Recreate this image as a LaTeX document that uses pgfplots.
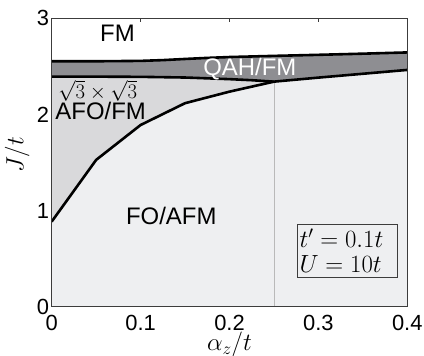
\documentclass[border=0pt]{standalone}
\usepackage{fontspec}
\setmainfont{Liberation Sans}
\usepackage{pgfplots}
\pgfplotsset{compat=1.18}

\definecolor{qahgray}{RGB}{142,142,146}
\definecolor{afogray}{RGB}{217,217,219}
\definecolor{fogray}{RGB}{238,239,241}
\definecolor{framegray}{RGB}{60,60,60}

\begin{document}
\begin{tikzpicture}
\begin{axis}[
  at={(0,0)}, anchor=south west,
  scale only axis, width=355.6bp, height=288.4bp,
  xmin=0, xmax=0.4, ymin=0, ymax=3,
  xtick={0,0.1,0.2,0.3,0.4}, ytick={0,1,2,3},
  xticklabels={0,0.1,0.2,0.3,0.4}, yticklabels={0,1,2,3},
  xtick pos=upper, xticklabel pos=lower,
  ytick pos=left, yticklabel pos=left,
  tick align=inside, major tick length=4bp,
  ytick style={draw=none},
  xtick style={framegray, line width=0.6bp},
  axis line style={framegray, line width=0.8bp},
  axis on top,
  ticklabel style={font=\fontsize{22}{22}\selectfont},
  xticklabel style={anchor=north, inner sep=0pt, yshift=-8bp},
  yticklabel style={anchor=east, inner sep=0pt, xshift=-2.5bp},
  xlabel={$\alpha_z/t$}, ylabel={$J/t$},
  xlabel style={at={(axis description cs:0.5,0)}, anchor=center, yshift=-37.5bp,
                font=\fontsize{25}{25}\selectfont},
  ylabel style={at={(axis description cs:-0.097,0.526)}, anchor=center,
                font=\fontsize{25}{25}\selectfont},
]

% FO/AFM region: below the lower phase boundary
\addplot[draw=none, fill=fogray] coordinates {
  (0,0) (0,0.885) (0.05,1.527) (0.1,1.89) (0.15,2.117) (0.2,2.237) (0.25,2.341)
  (0.3,2.383) (0.35,2.423) (0.4,2.463) (0.4,0)} -- cycle;

% sqrt3 x sqrt3 AFO/FM region
\addplot[draw=none, fill=afogray] coordinates {
  (0,0.885) (0.05,1.527) (0.1,1.89) (0.15,2.117) (0.2,2.237) (0.25,2.341)
  (0.225,2.356) (0.2,2.367) (0.15,2.384) (0.1,2.391) (0.05,2.393) (0,2.393)} -- cycle;

% QAH/FM band
\addplot[draw=none, fill=qahgray] coordinates {
  (0,2.553) (0.05,2.553) (0.1,2.557) (0.125,2.565) (0.15,2.577) (0.175,2.588)
  (0.2,2.597) (0.25,2.609) (0.3,2.62) (0.35,2.632) (0.4,2.645)
  (0.4,2.463) (0.35,2.423) (0.3,2.383) (0.25,2.341) (0.225,2.356) (0.2,2.367)
  (0.15,2.384) (0.1,2.391) (0.05,2.393) (0,2.393)} -- cycle;

% thin marker of the triple point
\addplot[gray!55, line width=0.6bp] coordinates {(0.25,0) (0.25,2.341)};

% phase boundaries
\addplot[black, line width=2.6bp, line join=round] coordinates {
  (0,2.553) (0.05,2.553) (0.1,2.557) (0.125,2.565) (0.15,2.577) (0.175,2.588)
  (0.2,2.597) (0.25,2.609) (0.3,2.62) (0.35,2.632) (0.4,2.645)};
\addplot[black, line width=2.6bp, line join=round] coordinates {
  (0,2.393) (0.05,2.393) (0.1,2.391) (0.15,2.384) (0.2,2.367) (0.225,2.356)
  (0.25,2.341) (0.3,2.383) (0.35,2.423) (0.4,2.463)};
\addplot[black, line width=2.6bp, line join=round] coordinates {
  (0,0.885) (0.05,1.527) (0.1,1.89) (0.15,2.117) (0.2,2.237) (0.25,2.341)};

% phase labels
\node[anchor=base west, inner sep=0pt, font=\fontsize{24}{24}\selectfont]
  at (axis cs:0.0543,2.758) {FM};
\node[anchor=base west, inner sep=0pt, text=white, font=\fontsize{24}{24}\selectfont]
  at (axis cs:0.1703,2.40) {QAH/FM};
\node[anchor=base west, inner sep=0pt, font=\fontsize{20.5}{20.5}\selectfont]
  at (axis cs:0.0074,2.165) {$\sqrt{3}\times\sqrt{3}$};
\node[anchor=base west, inner sep=0pt, font=\fontsize{24}{24}\selectfont]
  at (axis cs:0.004,1.943) {AFO/FM};
\node[anchor=base west, inner sep=0pt, font=\fontsize{24}{24}\selectfont]
  at (axis cs:0.0835,0.85) {FO/AFM};

% parameter box
\node[anchor=north west, draw=framegray, line width=0.6bp, fill=fogray,
      minimum width=100bp, minimum height=52.4bp, inner sep=2.3bp,
      text width=95bp, align=left, font=\fontsize{24}{25}\selectfont]
  at (axis cs:0.2756,0.857) {$t'=0.1t$\\$U=10t$};
\end{axis}
\pgfresetboundingbox
\useasboundingbox (-51.7bp,-49.3bp) rectangle (372.3bp,306.7bp);
\end{tikzpicture}
\end{document}
